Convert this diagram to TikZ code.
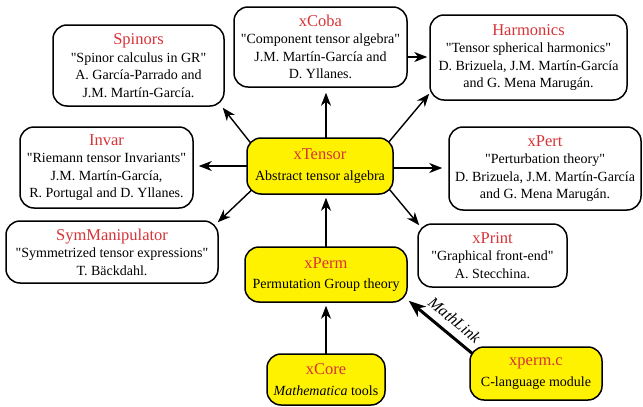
\documentclass[tikz,border=0pt]{standalone}
\usepackage{fontspec}
\setmainfont{Liberation Serif}
\usetikzlibrary{arrows.meta,backgrounds}
\definecolor{ttlred}{RGB}{214,52,56}
\newcommand\ttl[1]{{\color{ttlred}\fontsize{16.5}{20}\selectfont #1}}
\newcommand\qd{\textquotedbl}
\tikzset{
  base/.style={draw, line width=1.5pt, rounded corners=14pt, align=center, inner sep=0pt,
    font=\fontsize{14}{17.5}\selectfont},
  wbox/.style={base, fill=white},
  ybox/.style={base, fill=yellow},
  arr/.style={-{Stealth[length=13pt,width=10pt,inset=4pt]}, line width=1.4pt},
}
\begin{document}
\begin{tikzpicture}[x=1pt,y=1pt]
\useasboundingbox (0,0) rectangle (643,-407);
\node[wbox, minimum width=171pt, minimum height=81pt] (spinors) at (138.5,-65.5)
  {\ttl{Spinors}\\ \qd Spinor calculus in GR\qd\\ A. García-Parrado and\\ J.M. Martín-García.};
\node[wbox, minimum width=173pt, minimum height=80pt] (xcoba) at (320.5,-47)
  {\ttl{xCoba}\\ \qd Component tensor algebra\qd\\ J.M. Martín-García and\\ D. Yllanes.};
\node[wbox, minimum width=197pt, minimum height=85pt] (harm) at (528.5,-57.5)
  {\ttl{Harmonics}\\ \qd Tensor spherical harmonics\qd\\ D. Brizuela, J.M. Martín-García\\ and G. Mena Marugán.};
\node[wbox, minimum width=173pt, minimum height=81pt] (invar) at (106.5,-167.5)
  {\ttl{Invar}\\ \qd Riemann tensor Invariants\qd\\ J.M. Martín-García,\\ R. Portugal and D. Yllanes.};
\node[ybox, minimum width=146pt, minimum height=56pt] (xtensor) at (320,-166)
  {\ttl{xTensor}\\[3pt] Abstract tensor algebra};
\node[wbox, minimum width=192pt, minimum height=83pt] (xpert) at (545,-168.5)
  {\ttl{xPert}\\ \qd Perturbation theory\qd\\ D. Brizuela, J.M. Martín-García\\ and G. Mena Marugán.};
\node[wbox, minimum width=212pt, minimum height=62pt] (sym) at (112,-252)
  {\ttl{SymManipulator}\\ \qd Symmetrized tensor expressions\qd\\ T. Bäckdahl.};
\node[ybox, minimum width=162pt, minimum height=55pt] (xperm) at (326,-274.5)
  {\ttl{xPerm}\\[3pt] Permutation Group theory};
\node[ybox, minimum width=118pt, minimum height=51pt] (xcore) at (326,-379.5)
  {\ttl{xCore}\\[3pt] \textit{Mathematica} tools};
\node[wbox, minimum width=149pt, minimum height=63pt] (xprint) at (492.5,-255.5)
  {\ttl{xPrint}\\ \qd Graphical front-end\qd\\ A. Stecchina.};
\node[ybox, minimum width=132pt, minimum height=53pt] (xpermc) at (536,-373.5)
  {\ttl{xperm.c}\\[3pt] C-language module};
\begin{scope}[on background layer]
\draw[arr] ([shift={(11,-14)}]xtensor.north west) -- ([shift={(-2,-1)}]spinors.south east);
\draw[arr] ([shift={(12,11)}]xtensor.south west) -- ([shift={(-1,-2)}]sym.north east);
\draw[arr] ([shift={(-11,-12)}]xtensor.north east) -- ([shift={(0,7)}]harm.south west);
\draw[arr] ([shift={(-9,11)}]xtensor.south east) -- ([shift={(2,-2)}]xprint.north west);
\draw[arr] (xtensor.center) -- ([xshift=5pt]xtensor.center -| invar.east);
\draw[arr] ([yshift=-2pt]xtensor.center) -- ([xshift=-6pt,yshift=-2pt]xtensor.center -| xpert.west);
\draw[arr] (xtensor.center -| xperm.center) -- ([yshift=-5pt]xcoba.south -| xperm.center);
\draw[arr] (xperm.center) -- ([yshift=-3pt]xtensor.south -| xperm.center);
\draw[arr] (xcore.center) -- ([yshift=-3pt]xperm.south);
\draw[arr] ([yshift=-10pt]xcoba.east) -- ([xshift=-2pt,yshift=-10pt]xcoba.east -| harm.west);
\draw[-{Stealth[length=17pt,width=13pt,inset=5pt]}, line width=3pt]
  ([shift={(10,-13)}]xpermc.north west) -- ([shift={(1,2)}]xperm.south east)
  node[pos=0.48, sloped, above=4pt, font=\fontsize{16}{18}\selectfont\itshape] {MathLink};
\end{scope}
\end{tikzpicture}
\end{document}
